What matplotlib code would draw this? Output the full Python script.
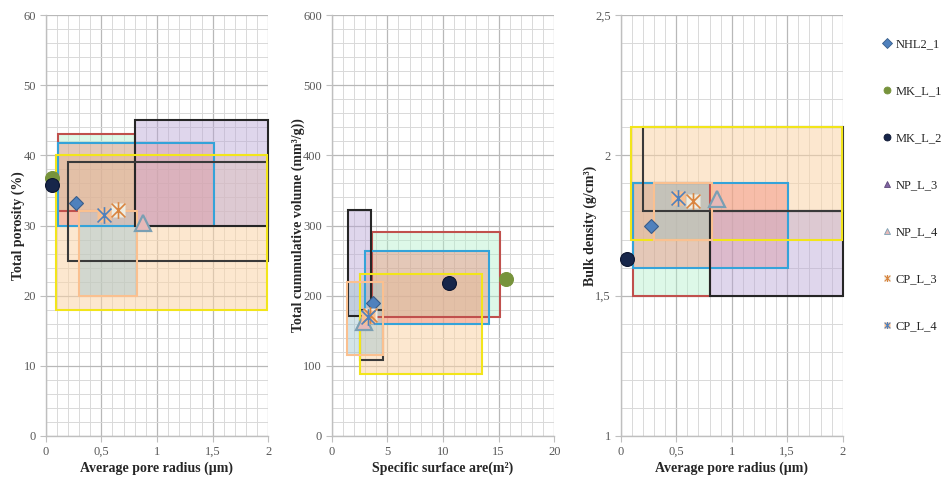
import numpy as np
import matplotlib
matplotlib.use("Agg")
import matplotlib.pyplot as plt
from matplotlib.patches import Rectangle
from matplotlib.path import Path
from matplotlib.lines import Line2D
from matplotlib.ticker import MultipleLocator, FuncFormatter

plt.rcParams['font.family'] = ['Liberation Serif', 'DejaVu Serif']

# ---------------- data ----------------
series = ["NHL2_1", "MK_L_1", "MK_L_2", "NP_L_3", "NP_L_4", "CP_L_3", "CP_L_4"]
radius = [0.27, 0.054, 0.054, np.nan, 0.87, 0.65, 0.52]          # µm
porosity = [33.2, 36.8, 35.8, np.nan, 30.4, 32.2, 31.5]           # %
surface = [3.7, 15.7, 10.5, np.nan, 2.9, 3.4, 3.3]                 # m2
volume = [189, 224, 218.5, np.nan, 162.5, 172, 170]                # mm3/g
density = [1.75, np.nan, 1.63, np.nan, 1.846, 1.838, 1.848]        # g/cm3

# reference ranges (boxes)
box_radius = [(0.11, 0.80), (0.11, 1.51), (0.80, 2.0), (0.20, 2.0), (0.095, 1.99), (0.30, 0.82)]
box_porosity = [(32, 43), (30, 41.7), (30, 45), (25, 39), (18, 40), (20, 32)]
box_surface = [(3.6, 15.1), (3.0, 14.1), (1.5, 3.55), (2.55, 4.65), (2.55, 13.5), (1.4, 4.6)]
box_volume = [(170, 291), (160, 264), (171, 322), (108, 180), (88, 231), (115, 219)]
box_density = [(1.5, 1.9), (1.6, 1.9), (1.5, 1.8), (1.8, 2.1), (1.7, 2.1), (1.7, 1.9)]

# ---------------- styles ----------------
box_edge = ['#c0504d', '#34a3d9', '#262626', '#3a3a3a', '#f2e51a', '#fac090']
box_face = ['#b4f0cc', '#f08070', '#b9a6d6', 'none', '#fbd5a8', '#9fc5cf']
box_alpha = [0.45, 0.40, 0.45, 1.0, 0.55, 0.45]
box_order = [4, 0, 1, 2, 5, 3]

star_path = Path([(-1, -1), (1, 1), (-1, 1), (1, -1), (0, -1.2), (0, 1.2)],
                 [Path.MOVETO, Path.LINETO, Path.MOVETO, Path.LINETO, Path.MOVETO, Path.LINETO])

styles = {
    "NHL2_1": dict(marker='D', ms=7, mfc='#4f81bd', mec='#385d8a', mew=0.8),
    "MK_L_1": dict(marker='o', ms=10, mfc='#77933c', mec='#77933c', mew=0.8),
    "MK_L_2": dict(marker='o', ms=10, mfc='#17264a', mec='#0d1630', mew=0.8),
    "NP_L_3": dict(marker='^', ms=9, mfc='#8064a2', mec='#5f497a', mew=0.8),
    "NP_L_4": dict(marker='^', ms=11, mfc='#e6b9b8', mec='#7a9fb3', mew=1.6),
}
star_styles = {
    "CP_L_3": dict(face='#eeece1', line='#d9843f'),
    "CP_L_4": dict(face='#fac090', line='#4f81bd'),
}

W, H = 941, 478
fig = plt.figure(figsize=(W / 100, H / 100), dpi=100)

axes_px = [(45.7, 268.3), (331.7, 554.3), (620.7, 842.7)]
top_px, bot_px = 15, 436
LABEL_KW = dict(fontsize=10, fontweight='bold', color='#262626')


def comma_fmt(v, pos):
    s = ('%g' % v)
    return s.replace('.', ',')


def make_ax(x0, x1):
    ax = fig.add_axes([x0 / W, 1 - bot_px / H, (x1 - x0) / W, (bot_px - top_px) / H])
    ax.set_axisbelow(True)
    for s in ['top', 'right']:
        ax.spines[s].set_visible(False)
    for s in ['left', 'bottom']:
        ax.spines[s].set_color('#bfbfbf')
        ax.spines[s].set_linewidth(1.0)
    ax.tick_params(which='major', length=4, color='#bfbfbf', labelsize=9, labelcolor='#595959', pad=3)
    ax.tick_params(which='minor', length=0)
    ax.grid(which='major', color='#b8b8b8', lw=0.9)
    ax.grid(which='minor', color='#d9d9d9', lw=0.7)
    return ax


def draw_boxes(ax, xr, yr):
    for i in box_order:
        (xa, xb), (ya, yb) = xr[i], yr[i]
        if box_face[i] != 'none':
            ax.add_patch(Rectangle((xa, ya), xb - xa, yb - ya, facecolor=box_face[i],
                                   alpha=box_alpha[i], edgecolor='none', zorder=2))
        ax.add_patch(Rectangle((xa, ya), xb - xa, yb - ya, facecolor='none', clip_on=False,
                               edgecolor=box_edge[i], lw=1.5, zorder=3 + i * 0.01))


def draw_points(ax, xs, ys, scale=1.0):
    for name, x, y in zip(series, xs, ys):
        if name in styles:
            st = dict(styles[name])
            st['ms'] = st['ms'] * scale
            ax.plot([x], [y], ls='none', zorder=6, clip_on=False, **st)
        else:
            ss = star_styles[name]
            ax.plot([x], [y], ls='none', marker='s', ms=9.5 * scale, mfc=ss['face'], mec='none', zorder=6)
            ax.plot([x], [y], ls='none', marker=star_path, ms=12 * scale, mfc='none',
                    mec=ss['line'], mew=1.2, zorder=7)


# Panel 1
ax1 = make_ax(*axes_px[0])
draw_boxes(ax1, box_radius, box_porosity)
draw_points(ax1, radius, porosity)
ax1.set_xlim(0, 2)
ax1.set_ylim(0, 60)
ax1.xaxis.set_major_locator(MultipleLocator(0.5))
ax1.xaxis.set_minor_locator(MultipleLocator(0.1))
ax1.yaxis.set_major_locator(MultipleLocator(10))
ax1.yaxis.set_minor_locator(MultipleLocator(2))
ax1.xaxis.set_major_formatter(FuncFormatter(comma_fmt))
ax1.set_xlabel('Average pore radius (µm)', labelpad=3, **LABEL_KW)
ax1.set_ylabel('Total porosity (%)', labelpad=-1, **LABEL_KW)

# Panel 2
ax2 = make_ax(*axes_px[1])
draw_boxes(ax2, box_surface, box_volume)
draw_points(ax2, surface, volume)
ax2.set_xlim(0, 20)
ax2.set_ylim(0, 600)
ax2.xaxis.set_major_locator(MultipleLocator(5))
ax2.xaxis.set_minor_locator(MultipleLocator(1))
ax2.yaxis.set_major_locator(MultipleLocator(100))
ax2.yaxis.set_minor_locator(MultipleLocator(20))
ax2.set_xlabel('Specific surface are(m²)', labelpad=3, **LABEL_KW)
ax2.set_ylabel('Total cummulative volume (mm³/g))', labelpad=-1, **LABEL_KW)

# Panel 3
ax3 = make_ax(*axes_px[2])
draw_boxes(ax3, box_radius, box_density)
draw_points(ax3, radius, density)
ax3.set_xlim(0, 2)
ax3.set_ylim(1, 2.5)
ax3.xaxis.set_major_locator(MultipleLocator(0.5))
ax3.xaxis.set_minor_locator(MultipleLocator(0.1))
ax3.yaxis.set_major_locator(MultipleLocator(0.5))
ax3.yaxis.set_minor_locator(MultipleLocator(0.1))
ax3.xaxis.set_major_formatter(FuncFormatter(comma_fmt))
ax3.yaxis.set_major_formatter(FuncFormatter(comma_fmt))
ax3.set_xlabel('Average pore radius (µm)', labelpad=3, **LABEL_KW)
ax3.set_ylabel('Bulk density (g/cm³)', labelpad=-1, **LABEL_KW)

# Legend
handles = []
for name in series:
    if name in styles:
        st = dict(styles[name])
        st['ms'] = 5
        st['mew'] = 0.6
        handles.append(Line2D([], [], ls='none', **st))
    else:
        ss = star_styles[name]
        handles.append((Line2D([], [], ls='none', marker='s', ms=5, mfc=ss['face'], mec='none'),
                        Line2D([], [], ls='none', marker=star_path, ms=5, mfc='none', mec=ss['line'], mew=0.8)))
leg = fig.legend(handles, series, loc='upper left', bbox_to_anchor=(882 / W, 1 - 38 / H),
                 frameon=False, fontsize=9, labelspacing=2.8, handlelength=0.8,
                 handletextpad=0.3, borderaxespad=0, borderpad=0)
for t in leg.get_texts():
    t.set_color('#262626')

fig.savefig('out.png', dpi=100)
